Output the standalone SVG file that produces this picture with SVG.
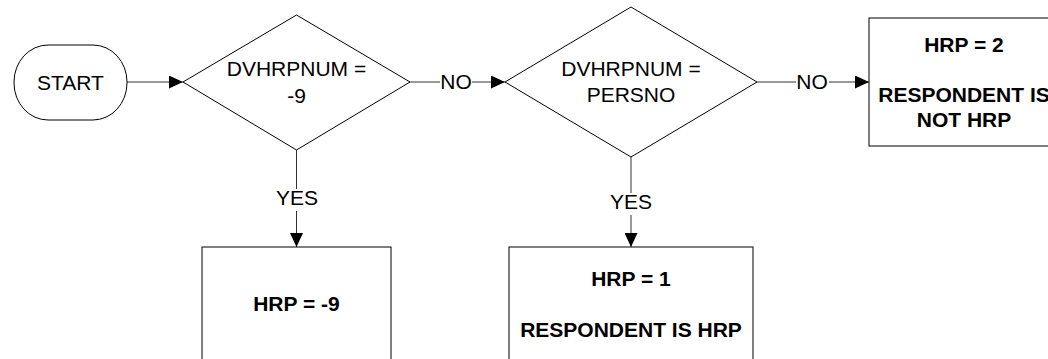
<svg xmlns="http://www.w3.org/2000/svg" width="1048" height="359" viewBox="0 0 1048 359">
<style>
.shape{fill:#fff;stroke:#000;stroke-width:1}
.conn{fill:none;stroke:#333;stroke-width:1}
.t{font-family:"Liberation Sans",Arial,sans-serif;font-size:21px;fill:#000;text-anchor:middle}
.b{font-weight:bold}
</style>
<defs>
<marker id="arr" markerUnits="userSpaceOnUse" markerWidth="14" markerHeight="13" refX="14" refY="6.5" orient="auto">
<path d="M0,0 L14,6.5 L0,13 z" fill="#000"/>
</marker>
</defs>
<rect width="1048" height="359" fill="#fff"/>
<g id="connectors">
<path class="conn" d="M127,82 L183,82" marker-end="url(#arr)"/>
<path class="conn" d="M410,82 L440,82"/>
<path class="conn" d="M472,82 L505,82" marker-end="url(#arr)"/>
<text class="t" x="456" y="89">NO</text>
<path class="conn" d="M757,82 L796,82"/>
<path class="conn" d="M829,82 L869,82" marker-end="url(#arr)"/>
<text class="t" x="812" y="89">NO</text>
<path class="conn" d="M296.5,150 L296.5,189"/>
<path class="conn" d="M296.5,211 L296.5,247" marker-end="url(#arr)"/>
<text class="t" x="297" y="205">YES</text>
<path class="conn" d="M631,157 L631,193"/>
<path class="conn" d="M631,215 L631,247" marker-end="url(#arr)"/>
<text class="t" x="631" y="209">YES</text>
</g>
<g id="start">
<rect class="shape" x="14" y="45" width="113" height="75" rx="34" ry="37"/>
<text class="t" x="70.5" y="89.5">START</text>
</g>
<g id="decision1">
<polygon class="shape" points="296.5,15 410,82 296.5,150 183,82"/>
<text class="t" x="296.5" y="76">DVHRPNUM =</text>
<text class="t" x="296.5" y="102.5">-9</text>
</g>
<g id="decision2">
<polygon class="shape" points="631,7 757,82 631,157 505,82"/>
<text class="t" x="631" y="76">DVHRPNUM =</text>
<text class="t" x="631" y="102">PERSNO</text>
</g>
<g id="hrp2">
<rect class="shape" x="869" y="18" width="190" height="128"/>
<text class="t b" x="964" y="52">HRP = 2</text>
<text class="t b" x="964" y="102">RESPONDENT IS</text>
<text class="t b" x="964" y="127">NOT HRP</text>
</g>
<g id="hrpminus9">
<rect class="shape" x="202" y="247" width="189" height="130"/>
<text class="t b" x="296.5" y="311">HRP = -9</text>
</g>
<g id="hrp1">
<rect class="shape" x="509" y="247" width="244" height="130"/>
<text class="t b" x="631" y="286">HRP = 1</text>
<text class="t b" x="631" y="337">RESPONDENT IS HRP</text>
</g>
</svg>
